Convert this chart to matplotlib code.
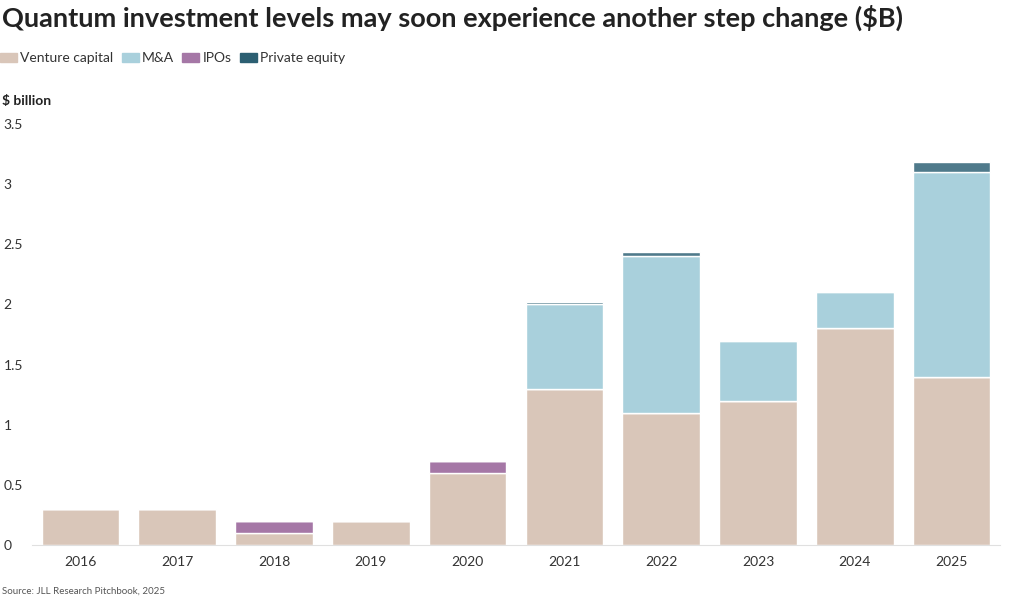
import matplotlib
matplotlib.use("Agg")
import matplotlib.pyplot as plt
from matplotlib.patches import Patch

years = ["2016", "2017", "2018", "2019", "2020", "2021", "2022", "2023", "2024", "2025"]
venture_capital = [0.3, 0.3, 0.1, 0.2, 0.6, 1.3, 1.1, 1.2, 1.8, 1.4]
mna = [0, 0, 0, 0, 0, 0.7, 1.3, 0.5, 0.3, 1.7]
ipos = [0, 0, 0.1, 0, 0.1, 0, 0, 0, 0, 0]
private_equity = [0, 0, 0, 0, 0, 0.02, 0.04, 0, 0, 0.08]
yticks = [0, 0.5, 1, 1.5, 2, 2.5, 3, 3.5]
ytick_labels = ["0", "0.5", "1", "1.5", "2", "2.5", "3", "3.5"]

plt.rcParams['font.family'] = ['Lato', 'DejaVu Sans']

c_vc = "#d9c6b9"
c_ma = "#a9d0dc"
c_ipo = "#a577a6"
c_pe = "#4f7a8b"
c_pe_leg = "#2c5f72"

fig = plt.figure(figsize=(10.2, 6.05), dpi=100)
ax = fig.add_axes([32/1020, 60/605, (1000-32)/1020, (545-124)/605])

x = list(range(len(years)))
series = [(venture_capital, c_vc), (ipos, c_ipo), (mna, c_ma), (private_equity, c_pe)]
bottom = [0.0]*len(years)
for vals, col in series:
    ax.bar(x, vals, bottom=bottom, width=0.8, color=col, edgecolor="white", linewidth=1.0)
    bottom = [b + v for b, v in zip(bottom, vals)]

ax.set_xlim(-0.5, len(years)-0.5)
ax.set_ylim(0, 3.5)
ax.set_xticks(x)
ax.set_xticklabels(years, fontsize=10, color="#333333")
ax.set_yticks(yticks)
ax.set_yticklabels(ytick_labels, fontsize=10, color="#333333")
for lab in ax.get_yticklabels():
    lab.set_horizontalalignment("left")
ax.tick_params(axis="y", length=0, pad=20.5)
ax.tick_params(axis="x", length=0, pad=8)
for s in ["top", "right", "left"]:
    ax.spines[s].set_visible(False)
ax.spines["bottom"].set_color("#e0e0e0")
ax.spines["bottom"].set_linewidth(0.8)

fig.text(0.002, 1 - 18/605, "Quantum investment levels may soon experience another step change ($B)",
         fontsize=19.5, fontweight="bold", color="#222222", va="center", ha="left")

handles = [Patch(color=c_vc, label="Venture capital"), Patch(color=c_ma, label="M&A"),
           Patch(color=c_ipo, label="IPOs"), Patch(color=c_pe_leg, label="Private equity")]
leg = fig.legend(handles=handles, loc="center left", bbox_to_anchor=(-0.012, 1 - 58/605), ncol=4,
                 frameon=False, handlelength=1.2, handleheight=0.6, handletextpad=0.25,
                 columnspacing=0.6, fontsize=10)
for t in leg.get_texts():
    t.set_color("#333333")

fig.text(0.002, 1 - 101/605, "$ billion", fontsize=10, fontweight="bold", color="#222222",
         va="center", ha="left")
fig.text(0.002, 1 - 591/605, "Source: JLL Research Pitchbook, 2025", fontsize=7, color="#555555",
         va="center", ha="left")

fig.savefig("out.png", dpi=100)
